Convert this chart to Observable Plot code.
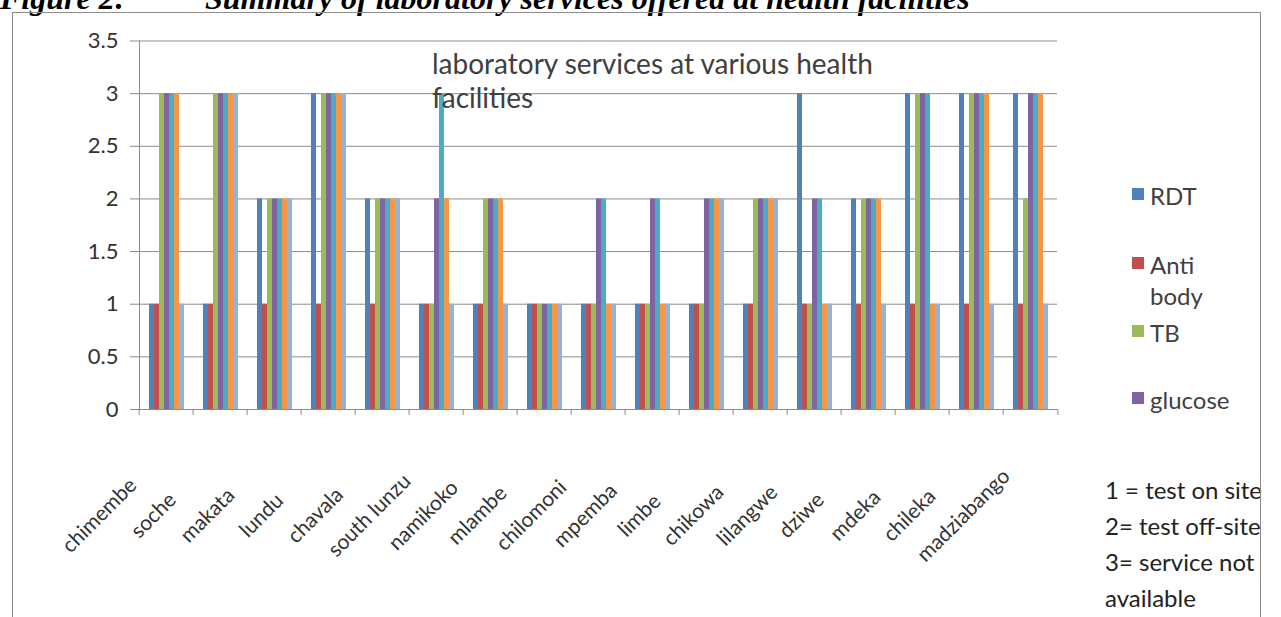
<!DOCTYPE html>
<html>
<head>
<meta charset="utf-8">
<script src="https://cdn.jsdelivr.net/npm/d3@7"></script>
<script src="https://cdn.jsdelivr.net/npm/@observablehq/plot@0.6"></script>
<style>
  html, body { margin: 0; padding: 0; background: #fff; }
  #page { position: relative; width: 1281px; height: 617px; overflow: hidden; font-family: Lato, sans-serif; color: #404040; }
  #page svg { position: absolute; left: 0; top: 0; }
  .abs { position: absolute; white-space: nowrap; }
  .heading { font-family: "Liberation Serif", serif; font-weight: bold; font-style: italic; font-size: 32px; line-height: 32px; color: #000; }
  #border { position: absolute; left: 12px; top: 12px; width: 1249px; height: 610px; border: 1px solid #8c8c8c; box-sizing: border-box; pointer-events: none; }
  #title { left: 432px; top: 46px; font-size: 28px; line-height: 34px; }
  .lg { font-size: 24px; line-height: 31px; }
  .sw { position: absolute; width: 12px; height: 12px; }
  #key { left: 1105px; top: 472px; font-size: 24px; line-height: 36px; color: #222; }
</style>
</head>
<body>
<div id="page"></div>
<script>
// Facilities on the category axis
const facilities = ["chimembe", "soche", "makata", "lundu", "chavala", "south lunzu", "namikoko",
  "mlambe", "chilomoni", "mpemba", "limbe", "chikowa", "lilangwe", "dziwe", "mdeka", "chileka", "madziabango"];

// Service series (the last three are unnamed in the legend)
const seriesNames = ["RDT", "Anti body", "TB", "glucose", "series 5", "series 6", "series 7"];
const seriesColors = ["#4F81BD", "#C0504D", "#9BBB59", "#8064A2", "#4BACC6", "#F79646", "#95B3D7"];

// Service codes per facility: 1 = test on site, 2 = test off-site, 3 = service not available
const rdt      = [1, 1, 2, 3, 2, 1, 1, 1, 1, 1, 1, 1, 3, 2, 3, 3, 3];
const antibody = [1, 1, 1, 1, 1, 1, 1, 1, 1, 1, 1, 1, 1, 1, 1, 1, 1];
const tb       = [3, 3, 2, 3, 2, 1, 2, 1, 1, 1, 1, 2, 1, 2, 3, 3, 2];
const glucose  = [3, 3, 2, 3, 2, 2, 2, 1, 2, 2, 2, 2, 2, 2, 3, 3, 3];
const series5  = [3, 3, 2, 3, 2, 3, 2, 1, 2, 2, 2, 2, 2, 2, 3, 3, 3];
const series6  = [3, 3, 2, 3, 2, 2, 2, 1, 1, 1, 2, 2, 1, 2, 1, 3, 3];
const series7  = [1, 3, 2, 3, 2, 1, 1, 1, 1, 1, 2, 2, 1, 1, 1, 1, 1];

const yTicks = [0, 0.5, 1, 1.5, 2, 2.5, 3, 3.5];
const legendNames = ["RDT", "Anti body", "TB", "glucose"];
const keyLines = ["1 = test on site", "2= test off-site", "3= service not", "available"];
const chartTitle = ["laboratory services at various health", "facilities"];
const headingLabel = "Figure 2:";
const headingText = "Summary of laboratory services offered at health facilities";

const seriesValues = [rdt, antibody, tb, glucose, series5, series6, series7];
const rows = facilities.flatMap((f, i) =>
  seriesValues.map((vals, j) => ({facility: f, series: seriesNames[j], value: vals[i]})));

const W = 1281, H = 617;
const mL = 132, mR = 218, mT = 40.5, mB = 208;
const step = (W - mL - mR) / facilities.length;
const axisGray = "#8c8c8c";

const chart = Plot.plot({
  width: W,
  height: H,
  marginLeft: mL,
  marginRight: mR,
  marginTop: mT,
  marginBottom: mB,
  style: {fontFamily: "Lato, sans-serif", background: "transparent", overflow: "visible"},
  fx: {domain: facilities, padding: 0, label: null},
  x: {domain: seriesNames, paddingInner: 0, paddingOuter: 1.12, axis: null},
  y: {domain: [0, 3.5], label: null},
  color: {domain: seriesNames, range: seriesColors},
  marks: [
    Plot.gridY(yTicks.filter((d) => d > 0), {stroke: axisGray, strokeOpacity: 1}),
    Plot.barY(rows, {fx: "facility", x: "series", y: "value", fill: "series"}),
    Plot.ruleY([0], {stroke: axisGray}),
    Plot.frame({anchor: "left", facetAnchor: "left", stroke: axisGray}),
    Plot.axisY({ticks: yTicks, tickSize: 9, tickPadding: 12, fontSize: 22, tickFormat: (d) => `${d}`,
      stroke: axisGray, fill: "#333", label: null}),
    // boundary tick marks between categories
    Plot.axisFx({anchor: "bottom", tickSize: 6, tickFormat: () => "", stroke: axisGray, dx: -step / 2, label: null}),
    Plot.axisFx({anchor: "bottom", ticks: [facilities[facilities.length - 1]], tickSize: 6, tickFormat: () => "",
      stroke: axisGray, dx: step / 2, label: null}),
    // rotated category labels
    Plot.axisFx({anchor: "bottom", tickSize: 0, tickPadding: 0, tickRotate: -45, textAnchor: "middle",
      lineAnchor: "middle", dx: -67, dy: 106, fontSize: 21, fill: "#333", label: null})
  ]
});

const page = document.getElementById("page");
page.appendChild(chart);

// heading line (partly above the page edge)
const h1 = document.createElement("div");
h1.className = "abs heading";
h1.style.left = "0px"; h1.style.top = "-18px";
h1.textContent = headingLabel;
page.appendChild(h1);
const h2 = document.createElement("div");
h2.className = "abs heading";
h2.style.left = "205px"; h2.style.top = "-18px";
h2.textContent = headingText;
page.appendChild(h2);

// chart title inside the plot area
const t = document.createElement("div");
t.className = "abs"; t.id = "title";
t.innerHTML = chartTitle.join("<br>");
page.appendChild(t);

// legend
const legendTops = [180, 249, 317, 384];
legendNames.forEach((name, i) => {
  const sw = document.createElement("div");
  sw.className = "sw";
  sw.style.left = "1132px";
  sw.style.top = (legendTops[i] + 8) + "px";
  sw.style.background = seriesColors[i];
  page.appendChild(sw);
  const lab = document.createElement("div");
  lab.className = "abs lg";
  lab.style.left = "1150px";
  lab.style.top = legendTops[i] + "px";
  lab.innerHTML = name.split(" ").join("<br>");
  page.appendChild(lab);
});

// code key
const key = document.createElement("div");
key.className = "abs"; key.id = "key";
key.innerHTML = keyLines.join("<br>");
page.appendChild(key);

const border = document.createElement("div");
border.id = "border";
page.appendChild(border);
</script>
</body>
</html>
